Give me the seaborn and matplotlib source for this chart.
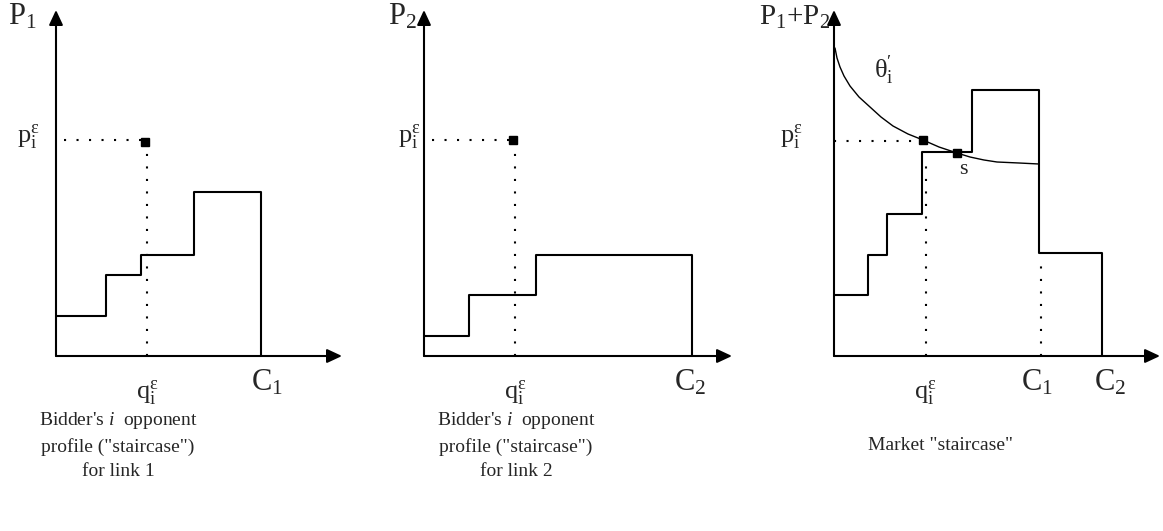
import matplotlib
matplotlib.use("Agg")
import matplotlib.pyplot as plt
import seaborn as sns
import pandas as pd

# ---- data (quantity / price units on each panel) ----
link1_edges = [0, 50, 85, 138, 205]
link1_prices = [40, 81, 101, 164]

link2_edges = [0, 45, 112, 268]
link2_prices = [20, 61, 101]

market_edges = [0, 34, 53, 88, 138, 205, 268]
market_prices = [61, 101, 142, 204, 266, 103]

theta_q = [1, 3, 6, 10, 16, 25, 36, 47, 59, 74, 89, 105, 123, 136, 150, 163, 185, 205]
theta_p = [308, 298, 289, 280, 270, 259, 249, 239, 230, 222, 216, 209, 203, 199, 196, 194, 193, 192]

q_eps = 91
p_eps = 216
s_point = (123, 203)
cap1 = 205
cap2 = 268

y_axis_top = 346
x_axis_ends = [286, 308, 326]

captions = [
    "Bidder's $\\it{i}$  opponent\nprofile (\"staircase\")\nfor link 1",
    "Bidder's $\\it{i}$  opponent\nprofile (\"staircase\")\nfor link 2",
    "Market \"staircase\"",
]
y_labels = [r"$\mathrm{P}_\mathrm{1}$", r"$\mathrm{P}_\mathrm{2}$", r"$\mathrm{P}_\mathrm{1}\mathrm{+P}_\mathrm{2}$"]

# ---- style ----
sns.set_theme(style="white")
plt.rcParams["font.family"] = ["Liberation Serif", "DejaVu Serif"]
plt.rcParams["mathtext.fontset"] = "custom"
plt.rcParams["mathtext.rm"] = "Liberation Serif"
plt.rcParams["mathtext.it"] = "Liberation Serif:italic"
plt.rcParams["mathtext.bf"] = "Liberation Serif:bold"

W, H = 1163, 531
fig = plt.figure(figsize=(W / 100, H / 100), dpi=100)
fig.patch.set_facecolor("white")

origins_x = [56, 424, 834]
origin_y = 356
XL, XR = -60, 330


def make_ax(ox):
    ax = fig.add_axes([(ox + XL) / W, 0, (XR - XL) / W, 1])
    ax.set_xlim(XL, XR)
    ax.set_ylim(-(H - origin_y), origin_y)
    ax.patch.set_alpha(0)
    ax.axis("off")
    return ax


LW = 1.5
DOT = dict(color="black", lw=1.5, linestyle=(0, (1, 5)))
ARROW = dict(arrowstyle="-|>,head_length=0.6,head_width=0.28", color="black",
             lw=LW, shrinkA=0, shrinkB=0, mutation_scale=15)


def axes_arrows(ax, xend):
    ax.annotate("", xy=(0, y_axis_top), xytext=(0, 0), arrowprops=ARROW)
    ax.annotate("", xy=(xend, 0), xytext=(0, 0), arrowprops=ARROW)


def staircase(ax, edges, prices):
    df = pd.DataFrame({"q": edges, "p": list(prices) + [0]})
    sns.lineplot(data=df, x="q", y="p", ax=ax, drawstyle="steps-post",
                 color="black", lw=LW, estimator=None, sort=False, legend=False)
    ax.set_xlim(XL, XR)
    ax.set_ylim(-(H - origin_y), origin_y)
    ax.axis("off")


def square(ax, x, y):
    ax.plot([x], [y], marker="s", ms=5.5, color="black", clip_on=False)


label_big = 22
label_mid = 19
caption_fs = 14
cap_ls = 1.52

P_EPS = r"$\mathrm{p}_\mathrm{i}^\mathrm{ε}$"
Q_EPS = r"$\mathrm{q}_\mathrm{i}^\mathrm{ε}$"

axes = [make_ax(ox) for ox in origins_x]

# Panel 1: link 1
ax = axes[0]
staircase(ax, link1_edges, link1_prices)
axes_arrows(ax, x_axis_ends[0])
ax.plot([8, q_eps - 2], [p_eps, p_eps], **DOT)
ax.plot([q_eps, q_eps], [0, p_eps - 6], **DOT)
square(ax, q_eps - 2, p_eps - 2)
ax.text(-34, 339, y_labels[0], fontsize=label_big, ha="center", va="center")
ax.text(-28, 219, P_EPS, fontsize=label_mid, ha="center", va="center")
ax.text(q_eps, -37, Q_EPS, fontsize=label_mid, ha="center", va="center")
ax.text(cap1 + 6, -27, r"$\mathrm{C}_\mathrm{1}$", fontsize=label_big, ha="center", va="center")
ax.text(62, -89, captions[0], fontsize=caption_fs, ha="center", va="center", linespacing=cap_ls)

# Panel 2: link 2
ax = axes[1]
staircase(ax, link2_edges, link2_prices)
axes_arrows(ax, x_axis_ends[1])
ax.plot([8, q_eps - 2], [p_eps, p_eps], **DOT)
ax.plot([q_eps, q_eps], [0, p_eps - 6], **DOT)
square(ax, q_eps - 2, p_eps)
ax.text(-22, 339, y_labels[1], fontsize=label_big, ha="center", va="center")
ax.text(-15, 219, P_EPS, fontsize=label_mid, ha="center", va="center")
ax.text(q_eps, -37, Q_EPS, fontsize=label_mid, ha="center", va="center")
ax.text(cap2 - 2, -27, r"$\mathrm{C}_\mathrm{2}$", fontsize=label_big, ha="center", va="center")
ax.text(92, -89, captions[1], fontsize=caption_fs, ha="center", va="center", linespacing=cap_ls)

# Panel 3: market
ax = axes[2]
staircase(ax, market_edges, market_prices)
axes_arrows(ax, x_axis_ends[2])
sns.lineplot(x=theta_q, y=theta_p, ax=ax, color="black", lw=1.0,
             estimator=None, sort=False, legend=False)
ax.set_xlim(XL, XR)
ax.set_ylim(-(H - origin_y), origin_y)
ax.axis("off")
ax.plot([0, q_eps - 2], [p_eps - 1, p_eps - 1], **DOT)
ax.plot([q_eps + 1, q_eps + 1], [0, 200], **DOT)
ax.plot([cap1 + 2, cap1 + 2], [0, 100], **DOT)
square(ax, q_eps - 2, p_eps)
square(ax, *s_point)
ax.text(s_point[0] + 6, 187, "s", fontsize=16, ha="center", va="center")
ax.text(50, 286, r"$\mathrm{θ}_\mathrm{i}^{\prime}$", fontsize=19, ha="center", va="center")
ax.text(-4, 339, y_labels[2], fontsize=21, ha="right", va="center")
ax.text(-43, 219, P_EPS, fontsize=label_mid, ha="center", va="center")
ax.text(q_eps, -37, Q_EPS, fontsize=label_mid, ha="center", va="center")
ax.text(cap1 - 2, -27, r"$\mathrm{C}_\mathrm{1}$", fontsize=label_big, ha="center", va="center")
ax.text(cap2 + 8, -27, r"$\mathrm{C}_\mathrm{2}$", fontsize=label_big, ha="center", va="center")
ax.text(106, -89, captions[2], fontsize=caption_fs, ha="center", va="center")

fig.savefig("out.png", dpi=100, facecolor="white")
